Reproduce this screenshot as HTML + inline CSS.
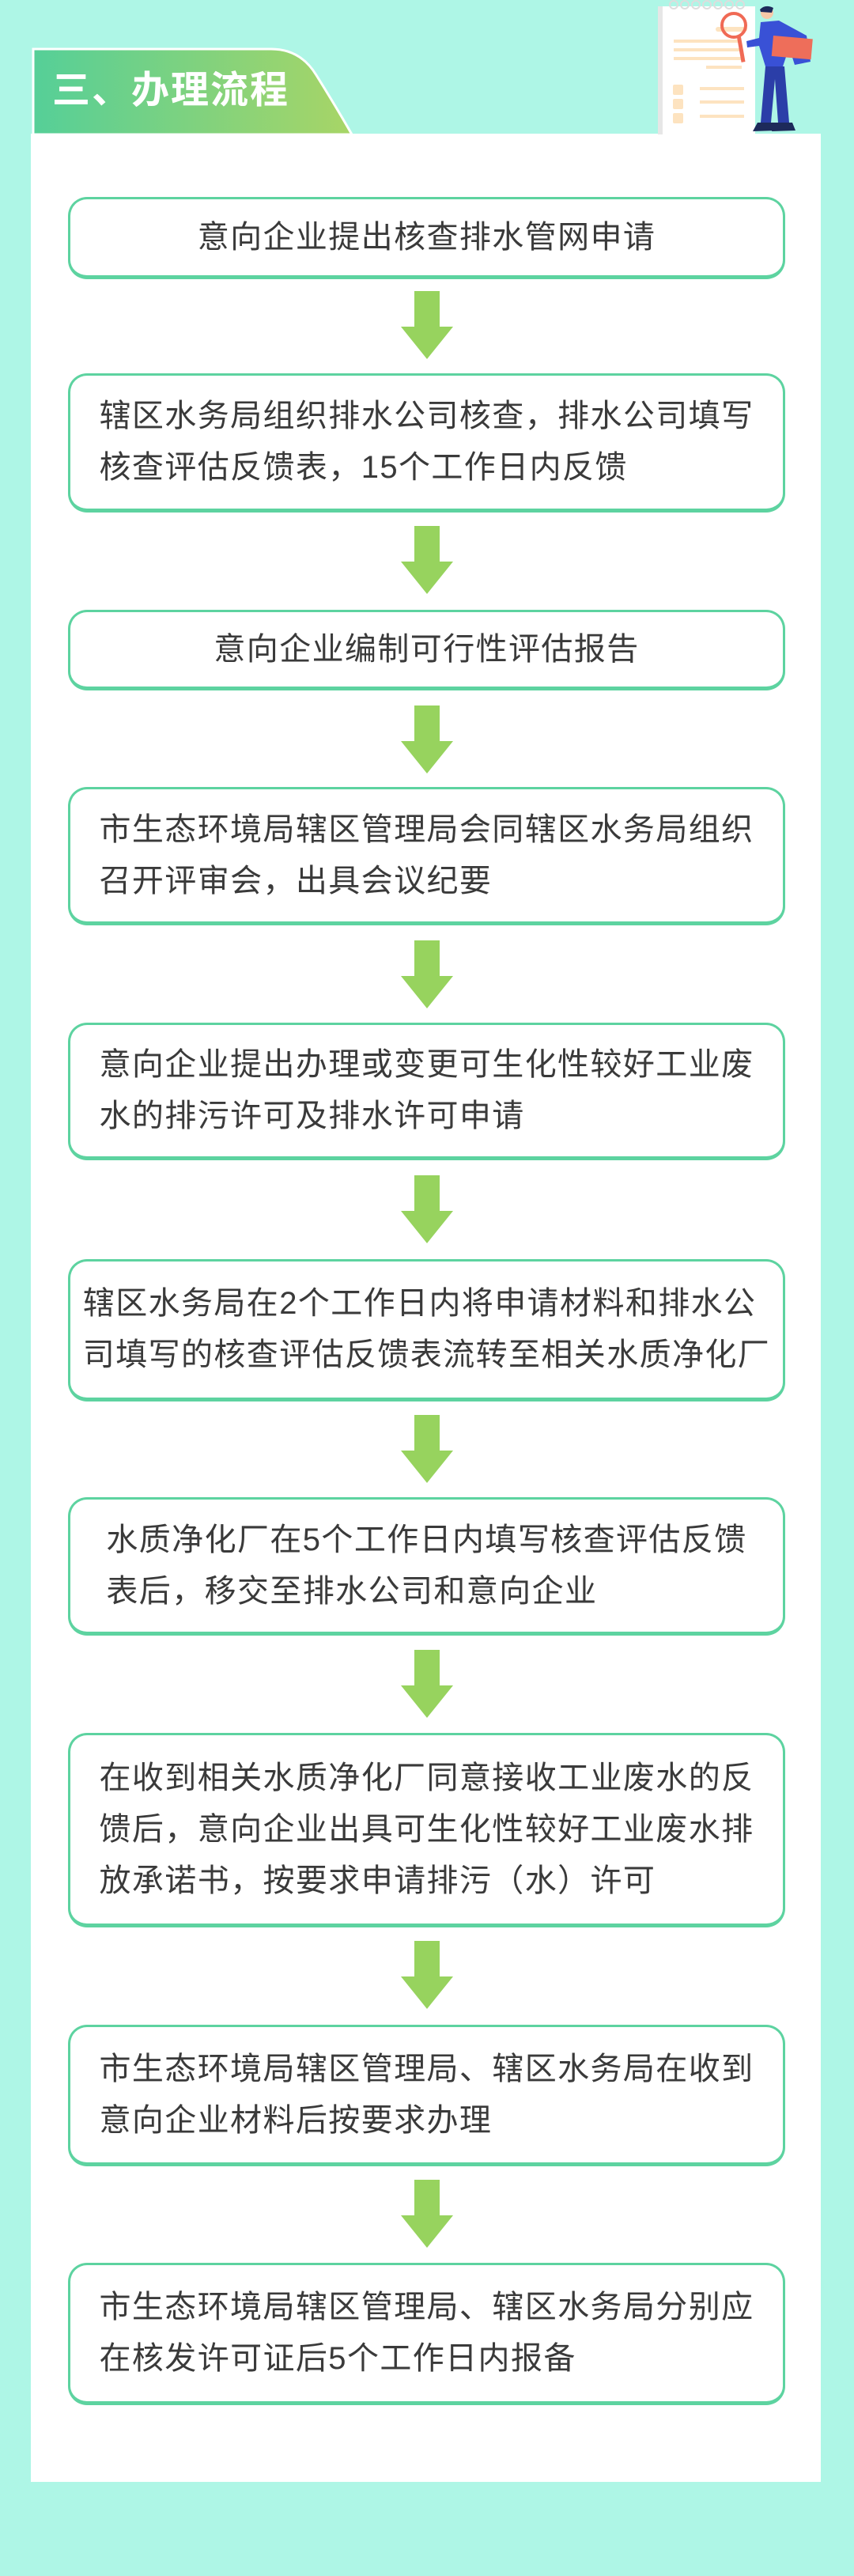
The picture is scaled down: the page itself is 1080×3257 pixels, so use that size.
<!DOCTYPE html>
<html><head><meta charset="utf-8">
<style>
html,body{margin:0;padding:0}
body{width:1080px;height:3257px;background:#aef6e6;position:relative;overflow:hidden;font-family:"Liberation Sans","Noto Sans CJK SC",sans-serif}
.panel{position:absolute;left:39px;top:169px;width:999px;height:2969px;background:#fff}
.box{position:absolute;left:86px;width:907px;border:3px solid #5dd3a0;border-bottom-width:5px;border-radius:24px;background:#fff;display:flex;align-items:center;justify-content:center;box-sizing:border-box}
.box div{font-size:40px;letter-spacing:1.4px;line-height:65px;color:#3a3a3a;text-align:left;white-space:nowrap}
.arrow{position:absolute;left:506px;width:68px;height:86px}
</style></head><body>
<div class="panel"></div>
<svg style="position:absolute;left:0;top:0" width="1080" height="175">
<defs><linearGradient id="g" x1="0" x2="1"><stop offset="0" stop-color="#55cf98"/><stop offset="1" stop-color="#a8d566"/></linearGradient></defs>
<path d="M42 62 L343 62 Q380 62 400 95 Q425 135 445 170 L42 170 Z" fill="url(#g)" stroke="#fff" stroke-width="3"/>
<text x="66" y="130" font-size="48" font-weight="bold" fill="#fff" font-family="Liberation Sans, Noto Sans CJK SC, sans-serif" letter-spacing="2">三、办理流程</text>
<rect x="832" y="8" width="6" height="162" fill="#e6e6e6"/>
<rect x="838" y="8" width="117" height="162" fill="#fff"/>
<g fill="none" stroke="#ddd" stroke-width="2"><circle cx="852" cy="6" r="5"/><circle cx="866" cy="6" r="5"/><circle cx="880" cy="6" r="5"/><circle cx="894" cy="6" r="5"/><circle cx="908" cy="6" r="5"/><circle cx="922" cy="6" r="5"/><circle cx="936" cy="6" r="5"/></g>
<g fill="#fde3c0"><rect x="905" y="34" width="40" height="6" rx="3"/><rect x="852" y="50" width="85" height="4"/><rect x="852" y="61" width="85" height="4"/><rect x="852" y="72" width="85" height="4"/><rect x="893" y="83" width="45" height="4"/><rect x="851" y="107" width="13" height="13" rx="2"/><rect x="851" y="125" width="13" height="13" rx="2"/><rect x="851" y="143" width="13" height="13" rx="2"/><rect x="885" y="110" width="56" height="4"/><rect x="885" y="127" width="56" height="4"/><rect x="885" y="145" width="56" height="4"/></g>
<circle cx="928" cy="32" r="15" fill="none" stroke="#f06a55" stroke-width="4"/>
<rect x="932" y="47" width="5" height="32" fill="#f06a55" transform="rotate(-10 934 47)"/>
<circle cx="970" cy="16" r="8" fill="#f7c9a8"/><path d="M961 12 Q968 5 978 10 L976 16 L962 15 Z" fill="#1d2a5a"/>
<path d="M962 28 L985 26 L1020 45 L1025 78 L1005 82 L998 60 L990 84 L968 84 L960 58 L945 60 L944 52 L960 48 Z" fill="#3951d6"/>
<rect x="978" y="45" width="50" height="26" fill="#ee6e5a" transform="rotate(5 978 45)"/>
<path d="M968 84 L992 84 L998 155 L984 155 L980 100 L975 155 L962 155 Z" fill="#2b3ea8"/>
<path d="M958 155 L980 155 L982 165 L952 166 Z M980 155 L1002 155 L1006 165 L976 166 Z" fill="#1d2a5a"/>
</svg>

<div class="box" style="top:249px;height:104px"><div>意向企业提出核查排水管网申请</div></div>
<div class="box" style="top:472px;height:176px"><div>辖区水务局组织排水公司核查，排水公司填写<br>核查评估反馈表，15个工作日内反馈</div></div>
<div class="box" style="top:771px;height:102px"><div>意向企业编制可行性评估报告</div></div>
<div class="box" style="top:995px;height:175px"><div>市生态环境局辖区管理局会同辖区水务局组织<br>召开评审会，出具会议纪要</div></div>
<div class="box" style="top:1293px;height:174px"><div>意向企业提出办理或变更可生化性较好工业废<br>水的排污许可及排水许可申请</div></div>
<div class="box" style="top:1592px;height:180px"><div>辖区水务局在2个工作日内将申请材料和排水公<br>司填写的核查评估反馈表流转至相关水质净化厂</div></div>
<div class="box" style="top:1893px;height:175px"><div>水质净化厂在5个工作日内填写核查评估反馈<br>表后，移交至排水公司和意向企业</div></div>
<div class="box" style="top:2191px;height:246px"><div>在收到相关水质净化厂同意接收工业废水的反<br>馈后，意向企业出具可生化性较好工业废水排<br>放承诺书，按要求申请排污（水）许可</div></div>
<div class="box" style="top:2560px;height:179px"><div>市生态环境局辖区管理局、辖区水务局在收到<br>意向企业材料后按要求办理</div></div>
<div class="box" style="top:2861px;height:180px"><div>市生态环境局辖区管理局、辖区水务局分别应<br>在核发许可证后5个工作日内报备</div></div>

<svg class="arrow" style="top:368px" viewBox="0 0 68 86"><path d="M18 0 H50 V45 H67 L34 86 L1 45 H18 Z" fill="#97d35e"/></svg>
<svg class="arrow" style="top:665px" viewBox="0 0 68 86"><path d="M18 0 H50 V45 H67 L34 86 L1 45 H18 Z" fill="#97d35e"/></svg>
<svg class="arrow" style="top:892px" viewBox="0 0 68 86"><path d="M18 0 H50 V45 H67 L34 86 L1 45 H18 Z" fill="#97d35e"/></svg>
<svg class="arrow" style="top:1189px" viewBox="0 0 68 86"><path d="M18 0 H50 V45 H67 L34 86 L1 45 H18 Z" fill="#97d35e"/></svg>
<svg class="arrow" style="top:1486px" viewBox="0 0 68 86"><path d="M18 0 H50 V45 H67 L34 86 L1 45 H18 Z" fill="#97d35e"/></svg>
<svg class="arrow" style="top:1789px" viewBox="0 0 68 86"><path d="M18 0 H50 V45 H67 L34 86 L1 45 H18 Z" fill="#97d35e"/></svg>
<svg class="arrow" style="top:2086px" viewBox="0 0 68 86"><path d="M18 0 H50 V45 H67 L34 86 L1 45 H18 Z" fill="#97d35e"/></svg>
<svg class="arrow" style="top:2454px" viewBox="0 0 68 86"><path d="M18 0 H50 V45 H67 L34 86 L1 45 H18 Z" fill="#97d35e"/></svg>
<svg class="arrow" style="top:2756px" viewBox="0 0 68 86"><path d="M18 0 H50 V45 H67 L34 86 L1 45 H18 Z" fill="#97d35e"/></svg>
</body></html>
